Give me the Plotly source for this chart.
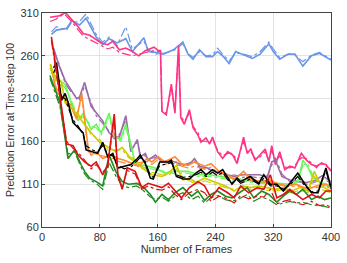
import plotly.graph_objects as go

# ---- data ----
blue_x = [13,20,34,41,52,61,75,84,93,104,116,125,141,147,157,168,182,195,202,209,218,227,236,243,250,259,268,279,291,302,314,320,329,341,350,361,373,384,400]
blue_y = [285,290,292,301,296,304,282,273,280,275,280,265,281,265,264,262,267,276,262,256,267,259,259,265,260,251,265,261,257,262,274,265,256,262,262,248,260,263,255]
blue_y2 = [288,294,290,299,300,309,285,276,282,272,294,268,277,267,262,263,266,274,263,258,265,260,261,269,262,254,263,262,259,265,276,268,258,262,261,253,261,264,256]

pink_x = [11,20,27,32,41,50,57,66,73,82,91,98,107,116,125,134,143,155,161,164,166,172,179,184,189,192,197,204,209,216,220,227,232,236,243,250,257,264,270,279,284,289,295,302,309,314,318,323,329,336,343,350,359,366,373,380,386,393,400]
pink_y = [305,306,307,311,303,294,286,284,280,275,273,277,267,269,265,260,266,270,266,266,195,191,227,193,272,188,180,197,176,167,159,164,157,165,148,140,148,144,134,165,146,151,138,144,151,136,155,133,148,127,131,129,146,138,133,131,134,133,125]
pink_y2 = [300,303,309,308,300,290,283,279,276,272,268,270,264,262,260,262,264,266,265,265,197,193,222,196,268,190,183,193,178,170,161,160,159,162,150,143,146,146,137,160,148,148,140,142,148,138,150,136,143,130,129,132,141,140,135,129,136,131,127]

purple_x = [16,23,32,41,48,52,59,68,75,84,93,100,107,116,123,132,136,143,147,157,166,175,184,193,204,211,218,229,238,248,257,266,277,289,301,312,318,323,332,343,354,366,377,388,400]
purple_y = [269,250,231,220,210,212,229,201,193,184,170,165,165,190,148,162,142,146,138,144,136,138,136,133,133,140,131,129,125,123,121,119,121,121,121,118,136,138,119,115,113,112,114,120,113]
purple_y2 = [266,252,228,217,212,209,225,204,190,181,172,163,168,185,151,159,145,143,140,141,138,135,134,131,135,137,129,127,127,121,119,121,118,119,117,120,132,141,122,113,114,110,112,117,111]

lgreen_x = [12,23,32,39,50,57,68,75,82,93,100,109,116,125,129,143,157,170,184,202,216,232,248,264,280,296,312,328,344,355,361,368,375,386,400]
lgreen_y = [244,231,227,208,184,193,174,180,170,193,165,163,180,150,132,132,129,123,125,125,121,121,119,117,115,113,112,111,110,115,138,130,117,112,108]
lgreen_y2 = [240,235,222,211,188,189,178,176,168,188,168,160,176,148,135,129,127,125,122,123,119,119,117,115,113,112,110,109,109,113,132,134,120,110,106]

orange_x = [12,20,34,41,48,55,64,68,75,84,96,105,114,125,134,145,152,161,170,184,193,202,211,225,234,245,257,266,279,289,302,314,325,339,352,366,380,393,400]
orange_y = [250,218,208,199,186,216,151,144,148,140,144,140,138,134,131,140,136,142,136,142,134,132,136,131,134,125,121,115,125,116,113,115,111,108,110,104,108,110,106]
orange_y2 = [246,222,205,203,190,212,148,147,145,143,141,137,135,131,135,137,133,139,133,138,131,129,131,128,130,122,118,117,121,114,112,113,110,107,108,106,106,108,104]

yellow_x = [11,20,27,32,43,57,68,80,91,102,111,121,130,138,152,166,175,186,195,204,213,225,238,254,266,277,289,300,311,323,334,345,357,368,377,386,400]
yellow_y = [250,231,230,205,197,182,170,159,153,148,153,142,138,129,121,119,123,132,115,117,112,117,113,108,102,108,106,108,106,104,106,102,106,102,125,108,102]
yellow_y2 = [246,228,226,208,199,185,168,162,150,150,150,140,136,131,124,121,120,128,118,114,110,114,110,106,104,106,104,105,103,102,104,100,103,100,120,104,100]

dgreen_x = [11,25,36,45,54,59,66,75,84,93,102,111,120,131,141,150,157,166,175,184,195,207,216,225,234,243,254,263,273,284,293,304,314,325,334,343,352,361,373,382,391,400]
dgreen_y = [237,205,140,150,133,125,117,113,108,144,125,113,110,111,106,98,89,98,92,100,106,96,102,91,98,102,96,94,100,106,94,102,98,89,96,102,98,104,92,96,92,94]
dgreen_y2 = [234,200,145,148,130,122,115,111,104,135,120,108,106,108,102,95,92,95,90,96,100,92,96,88,94,97,92,90,93,98,90,95,92,86,88,90,88,89,86,85,84,82]

black_x = [16,20,27,32,36,43,50,57,61,70,77,84,91,98,105,114,123,132,136,143,150,154,163,175,179,186,195,204,213,220,227,236,243,250,257,263,270,275,288,300,307,316,325,334,343,354,364,373,382,393,400]
black_y = [246,252,208,216,206,182,176,170,150,148,146,159,142,146,129,131,133,140,144,134,117,116,136,136,138,119,116,116,123,127,121,127,123,127,117,110,117,113,119,111,121,110,110,102,111,123,110,100,100,129,106]
black_y2 = [240,248,212,210,200,185,178,168,155,150,148,155,145,143,132,128,130,138,141,136,120,118,132,134,136,121,118,119,121,124,119,124,120,124,115,112,115,111,116,110,117,108,108,104,109,119,108,101,102,126,104]

red_x = [13,20,34,43,50,59,68,75,84,91,100,105,111,118,129,138,147,157,166,175,184,193,204,216,225,234,245,257,266,275,286,298,307,316,325,334,343,352,361,373,384,393,400]
red_y = [282,243,157,155,144,136,131,136,121,133,192,121,104,129,125,106,111,108,106,111,102,94,106,113,108,94,106,100,94,108,100,106,104,121,94,98,104,98,92,98,94,102,102]
red_y2 = [278,240,160,152,147,138,128,133,124,130,188,118,107,126,122,104,108,104,103,107,98,92,100,104,100,90,96,93,88,97,93,96,95,104,87,90,92,88,86,90,85,86,83]

x_ticks = [0, 80, 160, 240, 320, 400]
y_ticks = [60, 110, 160, 210, 260, 310]

series = [
    (blue_x, blue_y, blue_y2, "#6A96E8"),
    (pink_x, pink_y, pink_y2, "#FF3385"),
    (purple_x, purple_y, purple_y2, "#9C6AA8"),
    (lgreen_x, lgreen_y, lgreen_y2, "#6BF55E"),
    (orange_x, orange_y, orange_y2, "#FF8A33"),
    (yellow_x, yellow_y, yellow_y2, "#CCCC00"),
    (dgreen_x, dgreen_y, dgreen_y2, "#1E8C1E"),
    (black_x, black_y, black_y2, "#000000"),
    (red_x, red_y, red_y2, "#DD1111"),
]

fig = go.Figure()
for xs, ys, ys2, col in series:
    fig.add_trace(go.Scatter(x=xs, y=ys2, mode="lines",
                             line=dict(color=col, width=1.2, dash="dashdot")))
    fig.add_trace(go.Scatter(x=xs, y=ys, mode="lines",
                             line=dict(color=col, width=1.6)))

axis_common = dict(showgrid=True, gridcolor="#E3E3E3", gridwidth=1,
                   showline=True, mirror=True, linecolor="#444444", linewidth=1,
                   ticks="inside", ticklen=3, tickcolor="#444444",
                   zeroline=False, tickfont=dict(size=11, color="#333333"))

fig.update_layout(
    width=347, height=263,
    margin=dict(l=42, r=12, t=7, b=36),
    paper_bgcolor="white", plot_bgcolor="white",
    showlegend=False,
    font=dict(family="Liberation Sans, Arial, sans-serif", size=11, color="#333333"),
    xaxis=dict(range=[0, 400], tickvals=x_ticks,
               title=dict(text="Number of Frames", font=dict(size=11), standoff=2),
               **axis_common),
    yaxis=dict(range=[60, 310], tickvals=y_ticks,
               title=dict(text="Prediction Error at Time-step 100", font=dict(size=10.5), standoff=3),
               **axis_common),
)

fig.write_html("out.html", config={"displayModeBar": False},
               post_script="document.body.style.margin='0';document.body.style.overflow='hidden';")
